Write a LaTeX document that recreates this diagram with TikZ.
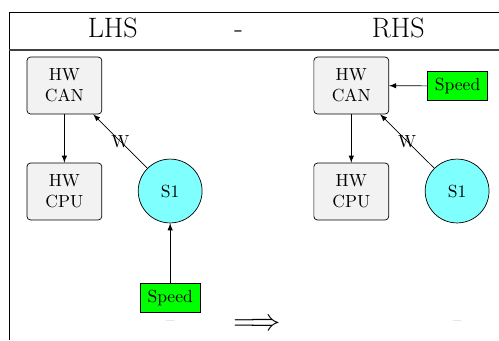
\documentclass[tikz,border=0pt]{standalone}
\usepackage{amssymb}
\usepackage{xcolor}
\usepackage{tikz}
\definecolor{hwgray}{rgb}{0.95,0.95,0.95}
\definecolor{swcyan}{rgb}{0.5,1,1}
\definecolor{sigreen}{rgb}{0,1,0}

\begin{document}
\begin{tikzpicture}[
    hwbox/.style={draw,rounded corners=2pt,fill=hwgray,align=center,minimum width=1.5cm,minimum height=1.14cm},
    swnode/.style={draw,circle,fill=swcyan,minimum size=1.28cm},
    signode/.style={draw,fill=sigreen,minimum width=1.2cm,minimum height=0.58cm,inner sep=1pt},
    dashmark/.style={text=gray!50},
    header/.style={anchor=base,font=\fontsize{16}{19}\selectfont},
    conn/.style={-latex}
]
    \useasboundingbox (0,0) rectangle (10,6.814);

    % draw frame
    \draw (0.18,0) -- (0.18,6.573) -- (10,6.573);
    \draw[line width=0.6pt,black!75] (0.18,5.812) -- (10,5.812);

    % draw header
    \node[header] (lhs) at (2.26,6.07) {LHS};
    \node[header] (sep) at (4.78,6.07) {-};
    \node[header] (rhs) at (7.98,6.07) {RHS};

    % draw left side
    \node[hwbox] (lcan) at (1.29,5.10) {HW\\CAN};
    \node[hwbox] (lcpu) at (1.29,2.976) {HW\\CPU};
    \node[swnode] (ls1) at (3.41,2.986) {S1};
    \node[signode] (lspeed) at (3.41,0.85) {Speed};
    \node[dashmark] (lmark) at (3.41,0.34) {--};

    \draw[conn] (lcan) -- (lcpu);
    \draw[conn] (ls1) -- node {W} (lcan);
    \draw[conn] (lspeed) -- (ls1);

    % draw arrow
    \node (rule) at (5.15,0.30) {\fontsize{16}{19}\selectfont $\Longrightarrow$};

    % draw right side
    \node[hwbox] (rcan) at (7.04,5.10) {HW\\CAN};
    \node[hwbox] (rcpu) at (7.04,2.976) {HW\\CPU};
    \node[swnode] (rs1) at (9.16,2.986) {S1};
    \node[signode] (rspeed) at (9.17,5.09) {Speed};
    \node[dashmark] (rmark) at (9.16,0.34) {--};

    \draw[conn] (rcan) -- (rcpu);
    \draw[conn] (rs1) -- node {W} (rcan);
    \draw[conn] (rspeed) -- (rcan);
\end{tikzpicture}
\end{document}
